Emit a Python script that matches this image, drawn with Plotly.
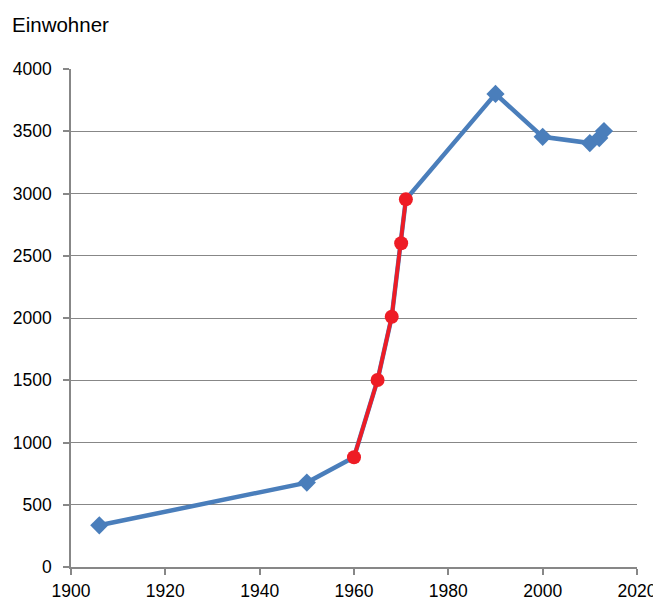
import plotly.graph_objects as go

years = [1906, 1950, 1960, 1965, 1968, 1970, 1971, 1990, 2000, 2010, 2012, 2013]
einwohner = [335, 678, 882, 1502, 2010, 2600, 2953, 3800, 3455, 3405, 3445, 3502]

red_years = [1960, 1965, 1968, 1970, 1971]
red_values = [882, 1502, 2010, 2600, 2953]

x_ticks = [1900, 1920, 1940, 1960, 1980, 2000, 2020]
y_ticks = [0, 500, 1000, 1500, 2000, 2500, 3000, 3500, 4000]

blue = "#4A7EBB"
red = "#EE1C25"
grey = "#878787"

blue_years = [y for y in years if y not in red_years]
blue_values = [v for y, v in zip(years, einwohner) if y not in red_years]

fig = go.Figure()
fig.add_trace(go.Scatter(
    x=years, y=einwohner, mode="lines",
    line=dict(color=blue, width=4.5),
    showlegend=False, cliponaxis=False,
))
fig.add_trace(go.Scatter(
    x=blue_years, y=blue_values, mode="markers",
    marker=dict(symbol="diamond", size=14, color=blue, opacity=1,
                line=dict(width=0)),
    showlegend=False, cliponaxis=False,
))
fig.add_trace(go.Scatter(
    x=red_years, y=red_values, mode="lines+markers",
    line=dict(color=red, width=3.8),
    marker=dict(symbol="circle", size=14, color=red, line=dict(width=0)),
    showlegend=False, cliponaxis=False,
))

# page body has an 8px margin, so the figure is offset by 8px
font_family = "Liberation Sans, Arial, sans-serif"
fig.update_layout(
    width=653, height=593,
    margin=dict(l=62.5, r=23.5, t=61, b=34, autoexpand=False),
    paper_bgcolor="white", plot_bgcolor="white",
    font=dict(family=font_family, size=17.5, color="black"),
    title=dict(text="Einwohner", x=4/653, xref="container", xanchor="left",
               y=1 - 17/593, yref="container", yanchor="middle",
               font=dict(size=20.5, family=font_family, color="black")),
    xaxis=dict(range=[1900, 2020], tickvals=x_ticks, showgrid=False,
               showline=True, linecolor=grey, linewidth=1.5,
               ticks="outside", ticklen=6, tickcolor=grey, tickwidth=1.5,
               zeroline=False, ticklabelstandoff=1, automargin=False),
    yaxis=dict(range=[0, 4000], tickvals=y_ticks, showgrid=True,
               gridcolor=grey, gridwidth=1.3,
               showline=True, linecolor=grey, linewidth=1.5,
               ticks="outside", ticklen=6, tickcolor=grey, tickwidth=1.5,
               zeroline=False, ticklabelstandoff=8, automargin=False),
)

fig.write_html("out.html")
